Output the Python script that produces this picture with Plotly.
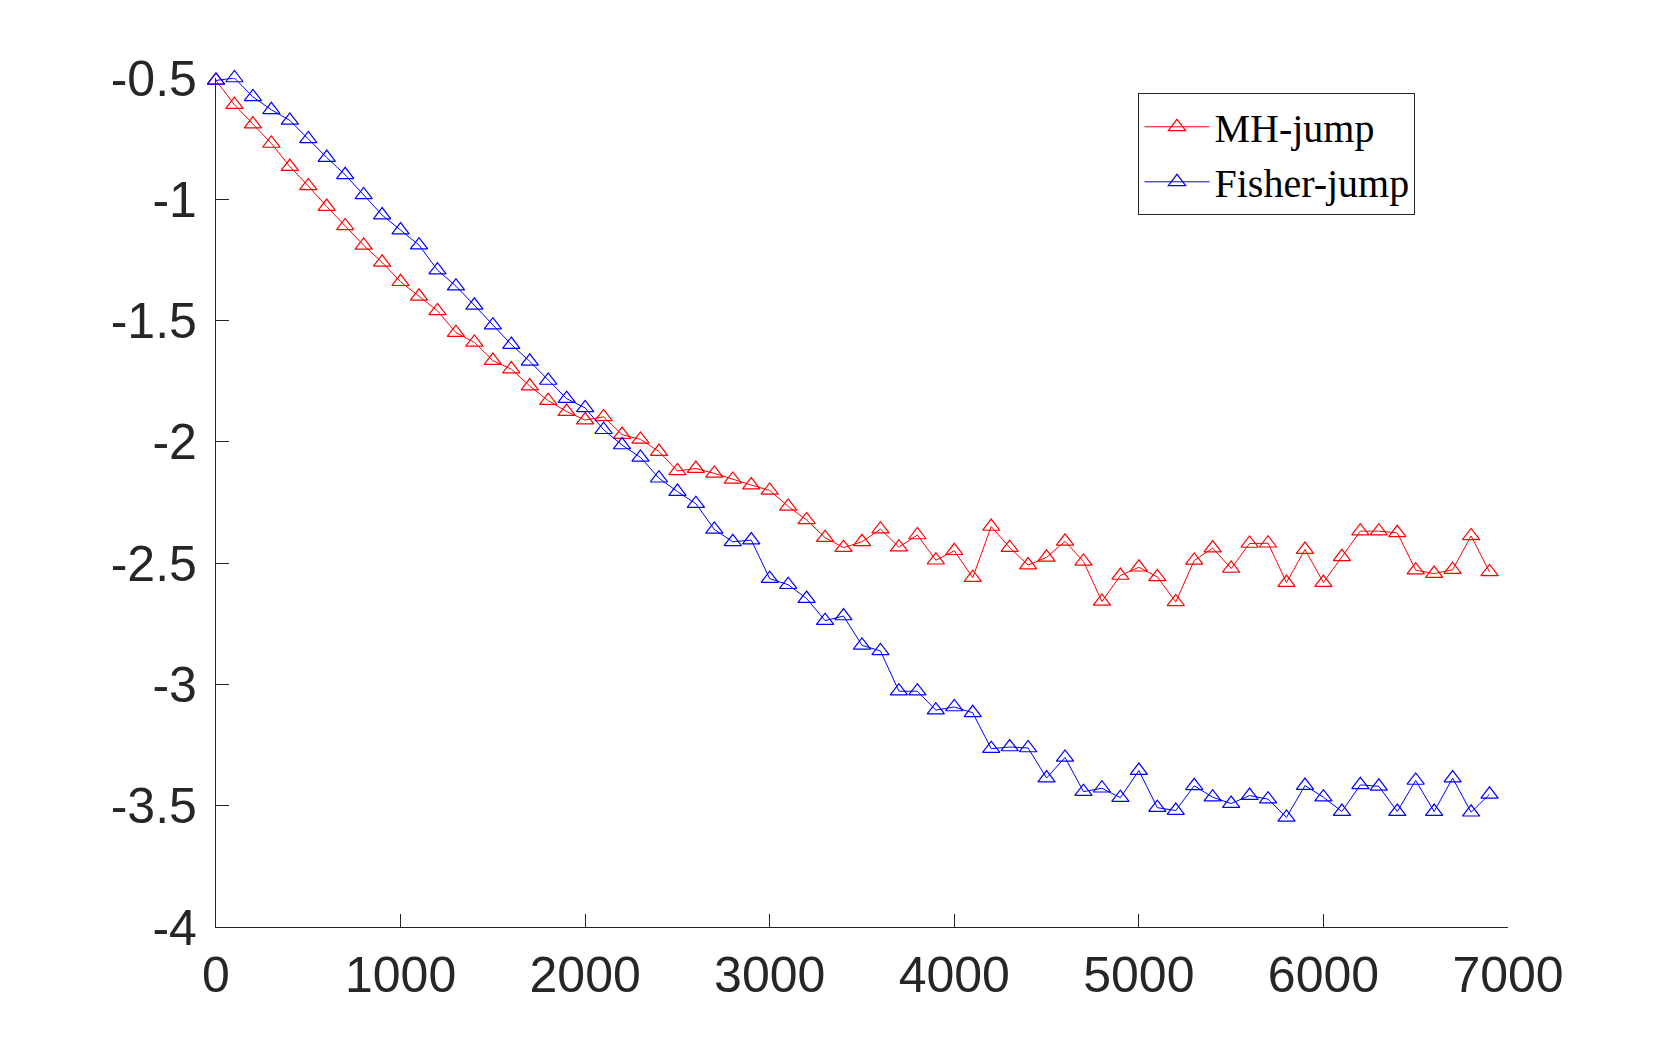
import plotly.graph_objects as go

iterations = list(range(0, 7000, 100))

mh_jump = [-0.51, -0.61, -0.69, -0.77, -0.865, -0.945, -1.03, -1.11, -1.19, -1.26,
           -1.34, -1.40, -1.46, -1.55, -1.59, -1.665, -1.70, -1.77, -1.83, -1.875,
           -1.91, -1.897, -1.97, -1.99, -2.04, -2.12, -2.11, -2.13, -2.155, -2.178,
           -2.20, -2.266, -2.322, -2.395, -2.436, -2.412, -2.36, -2.434, -2.384, -2.488,
           -2.449, -2.56, -2.349, -2.436, -2.508, -2.476, -2.41, -2.493, -2.658, -2.551,
           -2.517, -2.557, -2.66, -2.489, -2.438, -2.522, -2.419, -2.418, -2.58, -2.444,
           -2.58, -2.474, -2.368, -2.368, -2.375, -2.529, -2.543, -2.527, -2.388, -2.536]

fisher_jump = [-0.51, -0.50, -0.578, -0.631, -0.675, -0.751, -0.828, -0.899, -0.982, -1.065,
               -1.127, -1.189, -1.292, -1.358, -1.437, -1.519, -1.599, -1.668, -1.747, -1.822,
               -1.860, -1.950, -2.013, -2.064, -2.150, -2.205, -2.255, -2.361, -2.412, -2.405,
               -2.564, -2.589, -2.646, -2.737, -2.718, -2.839, -2.862, -3.028, -3.028, -3.106,
               -3.093, -3.117, -3.265, -3.258, -3.262, -3.386, -3.301, -3.442, -3.428, -3.467,
               -3.355, -3.508, -3.520, -3.418, -3.465, -3.491, -3.458, -3.473, -3.548, -3.417,
               -3.465, -3.524, -3.414, -3.420, -3.524, -3.396, -3.524, -3.386, -3.527, -3.453]

x_tickvals = [0, 1000, 2000, 3000, 4000, 5000, 6000, 7000]
x_ticktext = ["0", "1000", "2000", "3000", "4000", "5000", "6000", "7000"]
y_tickvals = [-4, -3.5, -3, -2.5, -2, -1.5, -1, -0.5]
y_ticktext = ["-4", "-3.5", "-3", "-2.5", "-2", "-1.5", "-1", "-0.5"]

fig = go.Figure()
fig.add_trace(go.Scatter(
    x=iterations, y=mh_jump, name="MH-jump", mode="lines+markers",
    line=dict(color="#FF0000", width=1),
    marker=dict(symbol="triangle-up-open", size=15, color="#FF0000", line=dict(width=1.2)),
    cliponaxis=False,
))
fig.add_trace(go.Scatter(
    x=iterations, y=fisher_jump, name="Fisher-jump", mode="lines+markers",
    line=dict(color="#0000FF", width=1),
    marker=dict(symbol="triangle-up-open", size=15, color="#0000FF", line=dict(width=1.2)),
    cliponaxis=False,
))

axis_color = "#262626"
fig.update_layout(
    width=1651, height=1026,
    margin=dict(l=208, r=151, t=70, b=107),
    paper_bgcolor="white", plot_bgcolor="white",
    font=dict(family="Liberation Sans, Arial, sans-serif", color=axis_color),
    showlegend=True,
    legend=dict(
        x=0.714, y=0.982, xanchor="left", yanchor="top",
        bgcolor="white", bordercolor=axis_color, borderwidth=1,
        font=dict(family="Liberation Serif, Times New Roman, serif", size=40, color="black"),
        tracegroupgap=0, itemwidth=65,
    ),
    xaxis=dict(
        range=[0, 7000], tickvals=x_tickvals, ticktext=x_ticktext,
        showgrid=False, zeroline=False, showline=True, linecolor=axis_color, linewidth=1.2,
        ticks="inside", ticklen=13, tickcolor=axis_color, tickwidth=1.2,
        tickfont=dict(size=50, color=axis_color), ticklabelstandoff=4,
    ),
    yaxis=dict(
        range=[-4, -0.5], tickvals=y_tickvals, ticktext=y_ticktext,
        showgrid=False, zeroline=False, showline=True, linecolor=axis_color, linewidth=1.2,
        ticks="inside", ticklen=13, tickcolor=axis_color, tickwidth=1.2,
        tickfont=dict(size=50, color=axis_color), ticklabelstandoff=8,
    ),
)

fig.write_html("out.html")
